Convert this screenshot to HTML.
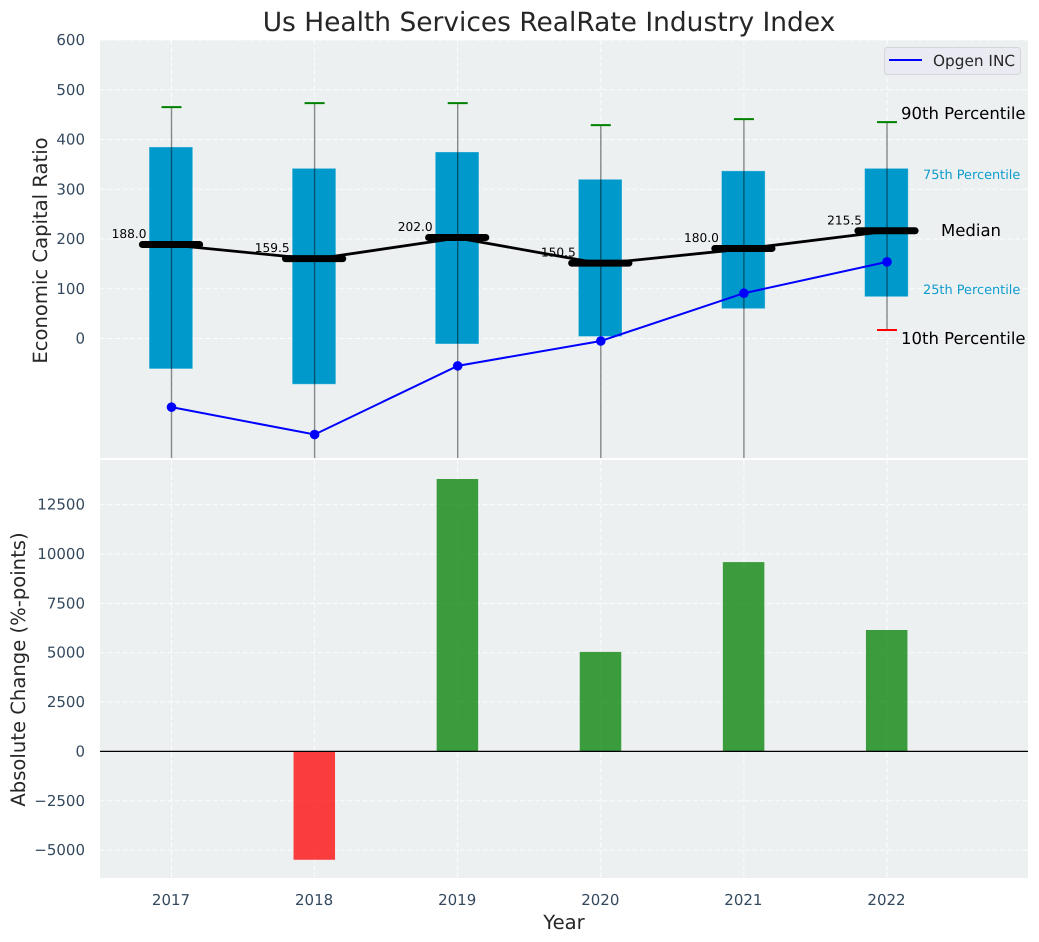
<!DOCTYPE html>
<html>
<head>
<meta charset="utf-8">
<title>Us Health Services RealRate Industry Index</title>
<style>
html,body{margin:0;padding:0;background:#fff;}
svg{display:block;font-family:"DejaVu Sans","Liberation Sans",sans-serif;text-rendering:geometricPrecision;}
</style>
</head>
<body>
<svg id="chart" xmlns="http://www.w3.org/2000/svg" width="1039" height="942" viewBox="0 0 1039 942">
  <defs>
    <clipPath id="top-clip"><rect x="100" y="40" width="928" height="418"/></clipPath>
    <clipPath id="bot-clip"><rect x="100" y="460" width="928" height="418"/></clipPath>
  </defs>
  <rect x="0" y="0" width="1039" height="942" fill="#ffffff"/>
  <rect x="100" y="40" width="928" height="418" fill="#ecf0f1"/>
  <rect x="100" y="460" width="928" height="418" fill="#ecf0f1"/>
  <g id="top-grid"></g>
  <g id="bot-grid"></g>
  <g id="top-marks" clip-path="url(#top-clip)"></g>
  <g id="bot-marks" clip-path="url(#bot-clip)"></g>
  <g id="ticks"></g>
  <text x="549" y="31" text-anchor="middle" font-size="26.45" fill="#262626">Us Health Services RealRate Industry Index</text>
  <text transform="translate(47,250.5) rotate(-90)" text-anchor="middle" font-size="19.6" fill="#262626">Economic Capital Ratio</text>
  <text transform="translate(25,669.5) rotate(-90)" text-anchor="middle" font-size="19.6" fill="#262626">Absolute Change (%-points)</text>
  <text x="564" y="929" text-anchor="middle" font-size="19.6" fill="#262626">Year</text>
  <g>
    <rect x="884.5" y="47.5" width="136" height="27" rx="3" fill="#eaeaf2" stroke="#d5d6da" stroke-width="1"/>
    <line x1="889" y1="60" x2="922" y2="60" stroke="#0000ff" stroke-width="2"/>
    <text x="933" y="66" font-size="15.3" fill="#262626">Opgen INC</text>
  </g>
  <g>
    <text x="901" y="119" font-size="16.5" fill="#000000">90th Percentile</text>
    <text x="923" y="179" font-size="12.9" fill="#0f9ccd">75th Percentile</text>
    <text x="941" y="236" font-size="16.5" fill="#000000">Median</text>
    <text x="923" y="294" font-size="12.9" fill="#0f9ccd">25th Percentile</text>
    <text x="901" y="344" font-size="16.5" fill="#000000">10th Percentile</text>
  </g>
</svg>
<script>
const years = [2017, 2018, 2019, 2020, 2021, 2022];
const p90 = [465, 473, 473, 429, 441, 435];
const p75 = [385, 342, 375, 320, 337, 342];
const medians = [188, 159.5, 202, 150.5, 180, 215.5];
const p25 = [-61, -92, -11, 4, 60, 84];
const p10 = [-300, -300, -300, -300, -300, 17];
const opgen = [-138, -193, -55, -5, 91, 154];
const changes = [0, -5490, 13800, 5040, 9590, 6150];
const topTicks = [0, 100, 200, 300, 400, 500, 600];
const botTicks = [-5000, -2500, 0, 2500, 5000, 7500, 10000, 12500];

const NS = 'http://www.w3.org/2000/svg';
const xScale = v => 171.5 + (v - 2017) * 143.1;
const xSpan = u => u * 143.1;
const yTop = v => 338.5 - v * 0.4975;
const yBot = v => 751.4 - v * 0.01974;

function mk(parent, tag, props, txt) {
  const el = document.createElementNS(NS, tag);
  for (const k in props) el.setAttribute(k, props[k]);
  if (txt !== undefined) el.textContent = txt;
  parent.appendChild(el);
  return el;
}
const gTopGrid = document.getElementById('top-grid');
const gBotGrid = document.getElementById('bot-grid');
const gTop = document.getElementById('top-marks');
const gBot = document.getElementById('bot-marks');
const gTicks = document.getElementById('ticks');
const gridStyle = {stroke: '#ffffff', 'stroke-width': 1, 'stroke-opacity': 0.85, 'stroke-dasharray': '5,2.5'};
const tickColor = '#34495e';

topTicks.forEach(t => {
  const el = mk(gTopGrid, 'line', Object.assign({x1: 100, x2: 1028, y1: yTop(t), y2: yTop(t)}, gridStyle));
  
  
  const lb = mk(gTicks, 'text', {x: 85, y: yTop(t) + 5, 'text-anchor': 'end', 'font-size': 15, fill: tickColor}, String(t));
  
  
});
botTicks.forEach(t => {
  const el = mk(gBotGrid, 'line', Object.assign({x1: 100, x2: 1028, y1: yBot(t), y2: yBot(t)}, gridStyle));
  
  
  const lb = mk(gTicks, 'text', {x: 85, y: yBot(t) + 5, 'text-anchor': 'end', 'font-size': 15, fill: tickColor}, String(t).replace('-', '\u2212'));
  
  
});
years.forEach(y => {
  const x = xScale(y);
  const a = mk(gTopGrid, 'line', Object.assign({x1: x, x2: x, y1: 40, y2: 458}, gridStyle));
  
  
  const b = mk(gBotGrid, 'line', Object.assign({x1: x, x2: x, y1: 460, y2: 878}, gridStyle));
  
  
  const lb = mk(gTicks, 'text', {x: x - 0.5, y: 905, 'text-anchor': 'middle', 'font-size': 15, fill: tickColor}, String(y));
  
  
});

/* interquartile boxes */
years.forEach((y, i) => {
  const x = xScale(y), w = xSpan(0.305);
  const box = mk(gTop, 'rect', {x: x - w / 2 - 0.6, y: yTop(p75[i]), width: w, height: yTop(p25[i]) - yTop(p75[i]), fill: '#0099cc', stroke: '#ffffff', 'stroke-opacity': 0.35, 'stroke-width': 1});
  
  
});
/* whiskers and caps */
years.forEach((y, i) => {
  const x = xScale(y);
  const wh = mk(gTop, 'line', {x1: x, x2: x, y1: yTop(p90[i]), y2: yTop(p10[i]), stroke: '#000000', 'stroke-opacity': 0.45, 'stroke-width': 1.4});
  
  
  const c1 = mk(gTop, 'line', {x1: x - 10, x2: x + 10, y1: yTop(p90[i]), y2: yTop(p90[i]), stroke: '#008000', 'stroke-width': 2});
  
  
  const c2 = mk(gTop, 'line', {x1: x - 10, x2: x + 10, y1: yTop(p10[i]), y2: yTop(p10[i]), stroke: '#ff0000', 'stroke-width': 2});
  
  
});
/* median line */
const medLine = mk(gTop, 'polyline', {points: years.map((y, i) => xScale(y) + ',' + yTop(medians[i])).join(' '), fill: 'none', stroke: '#000000', 'stroke-width': 2.8});


years.forEach((y, i) => {
  const x = xScale(y) - 0.5, hw = xSpan(0.2);
  const m = mk(gTop, 'line', {x1: x - hw, x2: x + hw, y1: yTop(medians[i]) - 0.5, y2: yTop(medians[i]) - 0.5, stroke: '#000000', 'stroke-width': 7, 'stroke-linecap': 'round'});
  
  
});
/* company series */
const opLine = mk(gTop, 'polyline', {points: years.map((y, i) => xScale(y) + ',' + yTop(opgen[i])).join(' '), fill: 'none', stroke: '#0000ff', 'stroke-width': 2});


years.forEach((y, i) => {
  const pt = mk(gTop, 'circle', {cx: xScale(y), cy: yTop(opgen[i]), r: 4.8, fill: '#0000ff'});
  
  
});
/* median value labels */
years.forEach((y, i) => {
  const lb = mk(gTop, 'text', {x: xScale(y) - 25, y: yTop(medians[i]) - 7, 'text-anchor': 'end', 'font-size': 12.2, fill: '#000000'}, medians[i].toFixed(1));
  
  
});
/* change bars */
years.forEach((y, i) => {
  const x = xScale(y), w = xSpan(0.29), v = changes[i];
  const bar = mk(gBot, 'rect', {x: x - w / 2 - 0.3, y: Math.min(yBot(v), yBot(0)), width: w, height: Math.abs(yBot(v) - yBot(0)), fill: v >= 0 ? '#008000' : '#ff0000', 'fill-opacity': 0.75});
  
  
});
const zero = mk(gBot, 'line', {x1: 100, x2: 1028, y1: yBot(0), y2: yBot(0), stroke: '#000000', 'stroke-width': 1.3});


</script>
</body>
</html>
